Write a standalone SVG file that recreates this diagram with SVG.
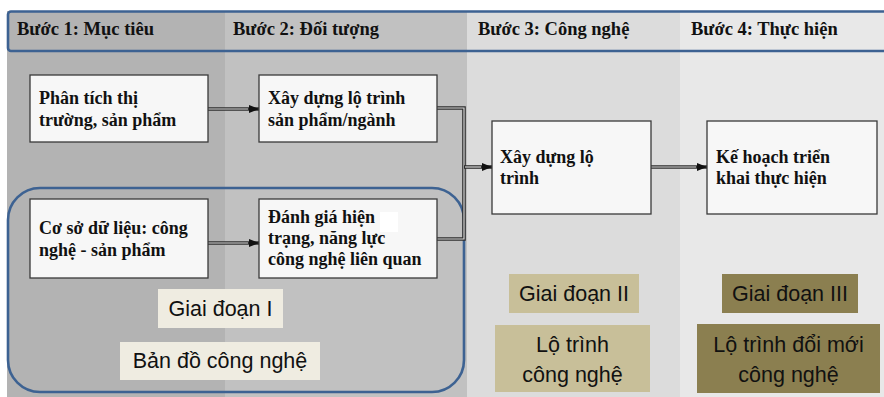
<svg xmlns="http://www.w3.org/2000/svg" width="884" height="397" viewBox="0 0 884 397">
<defs>
<style>
.box{fill:#f7f7f7;stroke:#3a3a3a;stroke-width:1.3}
.bt{font-family:"Liberation Serif","Times New Roman",serif;font-weight:bold;font-size:18px;fill:#111}
.ht{font-family:"Liberation Serif","Times New Roman",serif;font-weight:bold;font-size:18.5px;fill:#111}
.lt{font-family:"Liberation Sans",Arial,sans-serif;font-size:21.5px;fill:#111;text-anchor:middle}
.co{fill:none;stroke:#2e2e2e;stroke-width:3.6}
.ci{fill:none;stroke:#d8d8d8;stroke-width:1.2}
</style>
<marker id="ah" viewBox="0 0 10 8" refX="10" refY="4" markerWidth="10" markerHeight="8" markerUnits="userSpaceOnUse" orient="auto">
<path d="M0,0 L10,4 L0,8 z" fill="#111"/>
</marker>
</defs>
<rect width="884" height="397" fill="#ffffff"/>
<g id="columns">
<rect x="7" y="11" width="218" height="386" fill="#b3b3b3"/>
<rect x="225" y="11" width="242" height="386" fill="#c1c1c1"/>
<rect x="467" y="11" width="213" height="386" fill="#dcdcdc"/>
<rect x="680" y="11" width="204" height="386" fill="#e8e8e8"/>
</g>
<g id="header">
<rect x="8" y="11.5" width="884" height="39.5" rx="3" fill="none" stroke="#3d6292" stroke-width="2.6"/>
<text class="ht" x="17" y="35">Bước 1: Mục tiêu</text>
<text class="ht" x="233" y="35">Bước 2: Đối tượng</text>
<text class="ht" x="478" y="35">Bước 3: Công nghệ</text>
<text class="ht" x="691" y="35">Bước 4: Thực hiện</text>
</g>
<g id="phase1-frame">
<rect x="8" y="188" width="456" height="204" rx="32" fill="none" stroke="#3d6292" stroke-width="2.6"/>
</g>
<g id="connectors">
<line class="co" x1="208" y1="109" x2="259" y2="109" marker-end="url(#ah)"/>
<line class="ci" x1="208" y1="109" x2="248" y2="109"/>
<line class="co" x1="208" y1="243" x2="259" y2="243" marker-end="url(#ah)"/>
<line class="ci" x1="208" y1="243" x2="248" y2="243"/>
<path class="co" d="M437,108 H464 V239 H437"/>
<path class="ci" d="M437,108 H464 V239 H437"/>
<line class="co" x1="464" y1="167" x2="492" y2="167" marker-end="url(#ah)"/>
<line class="ci" x1="465" y1="167" x2="481" y2="167"/>
<line class="co" x1="651" y1="167" x2="707" y2="167" marker-end="url(#ah)"/>
<line class="ci" x1="651" y1="167" x2="696" y2="167"/>
</g>
<g id="node-phan-tich">
<rect class="box" x="30" y="75" width="178" height="67"/>
<text class="bt" x="39" y="104">Phân tích thị</text>
<text class="bt" x="39" y="126">trường, sản phẩm</text>
</g>
<g id="node-xd-lo-trinh-sp">
<rect class="box" x="259" y="75" width="178" height="67"/>
<text class="bt" x="268" y="104">Xây dựng lộ trình</text>
<text class="bt" x="268" y="126">sản phẩm/ngành</text>
</g>
<g id="node-co-so-du-lieu">
<rect class="box" x="30" y="199" width="178" height="79"/>
<text class="bt" x="39" y="234">Cơ sở dữ liệu: công</text>
<text class="bt" x="39" y="256">nghệ - sản phẩm</text>
</g>
<g id="node-danh-gia">
<rect class="box" x="259" y="199" width="178" height="79"/>
<rect x="380" y="212" width="18" height="20" fill="#ffffff"/>
<text class="bt" x="268" y="223">Đánh giá hiện</text>
<text class="bt" x="268" y="244">trạng, năng lực</text>
<text class="bt" x="268" y="265">công nghệ liên quan</text>
</g>
<g id="node-xd-lo-trinh">
<rect class="box" x="492" y="121" width="159" height="93"/>
<text class="bt" x="500" y="163">Xây dựng lộ</text>
<text class="bt" x="500" y="184">trình</text>
</g>
<g id="node-ke-hoach">
<rect class="box" x="707" y="121" width="170" height="93"/>
<text class="bt" x="716" y="163">Kế hoạch triển</text>
<text class="bt" x="716" y="184">khai thực hiện</text>
</g>
<g id="label-gd1">
<rect x="158" y="289" width="125" height="39" fill="#efece1"/>
<text class="lt" x="220.5" y="316">Giai đoạn I</text>
</g>
<g id="label-bando">
<rect x="120" y="342" width="200" height="38" fill="#efece1"/>
<text class="lt" x="220" y="368">Bản đồ công nghệ</text>
</g>
<g id="label-gd2">
<rect x="509" y="274" width="130" height="39" fill="#c8bf99"/>
<text class="lt" x="574" y="301">Giai đoạn II</text>
</g>
<g id="label-lotrinh">
<rect x="495" y="325" width="155" height="67" fill="#c8bf99"/>
<text class="lt" x="572.5" y="352">Lộ trình</text>
<text class="lt" x="572.5" y="382">công nghệ</text>
</g>
<g id="label-gd3">
<rect x="722" y="274" width="136" height="39" fill="#8b7f50"/>
<text class="lt" x="790" y="301">Giai đoạn III</text>
</g>
<g id="label-doimoi">
<rect x="697" y="324" width="183" height="69" fill="#8b7f50"/>
<text class="lt" x="788.5" y="352">Lộ trình đổi mới</text>
<text class="lt" x="788.5" y="382">công nghệ</text>
</g>
</svg>
